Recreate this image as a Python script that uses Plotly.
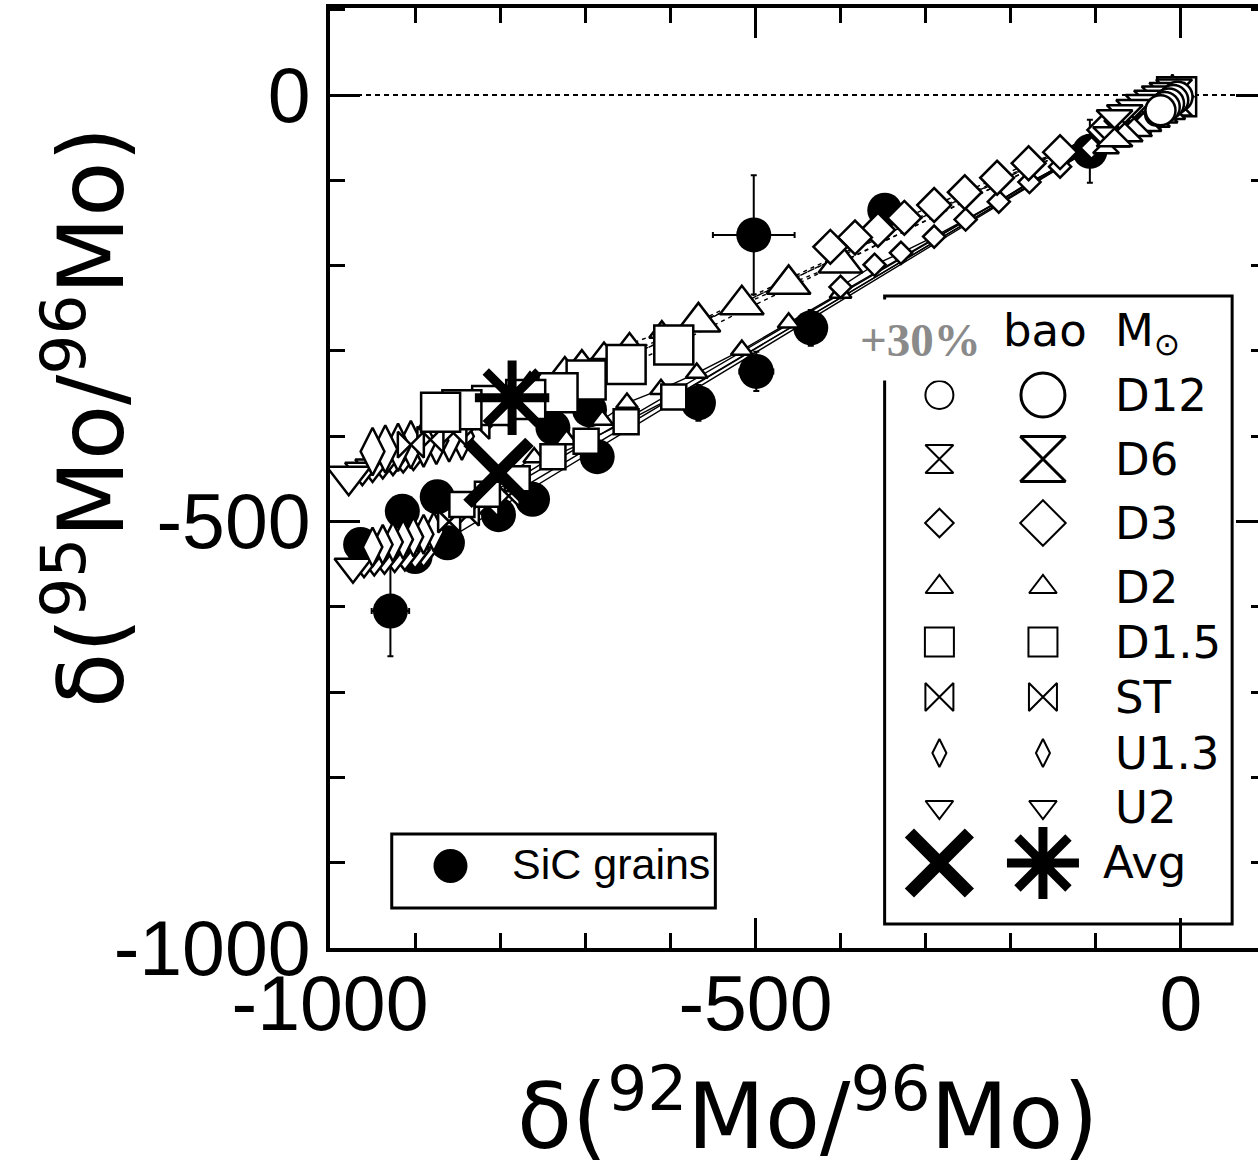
import plotly.graph_objects as go

# ------------------------------------------------------------------ data
# SiC grains (x = d(92Mo/96Mo), y = d(95Mo/96Mo)) with 1-sigma errors
sic_x = [-107, -502, -435, -499, -567, -686, -695, -738, -762, -802, -874, -915, -862, -900, -964, -929, -348]
sic_y = [-66, -164, -273, -324, -361, -424, -369, -390, -474, -492, -471, -488, -525, -541, -527, -605, -135]
sic_ex = [10, 48, 16, 20, 14, 12, 12, 12, 12, 12, 12, 12, 12, 12, 12, 22, 12]
sic_ey = [37, 70, 21, 23, 21, 12, 12, 12, 12, 12, 12, 12, 12, 12, 12, 53, 12]

# averages
avg_p30_x = [-802]
avg_p30_y = [-443]
avg_bao_x = [-786]
avg_bao_y = [-355]

models = ["D12", "D6", "D3", "D2", "D1.5", "ST", "U1.3", "U2"]

# "bao" cross sections (upper band, dashed)
bao_D12_x = [-4, -9, -14, -19, -24]
bao_D12_y = [-2, -6, -10, -14, -18]
bao_D6_x = [-8, -16, -25, -34, -44, -55, -66, -78]
bao_D6_y = [-3, -7, -11, -16, -21, -27, -33, -39]
bao_D3_x = [-5, -40, -90, -142, -179, -216, -254, -290, -325, -356, -383, -412]
bao_D3_y = [-2, -18, -41, -67, -80, -97, -114, -129, -144, -158, -167, -178]
bao_D2_x = [-5, -400, -461, -516, -567, -610, -648, -678, -704, -724, -765, -800]
bao_D2_y = [-2, -197, -222, -246, -266, -278, -292, -303, -312, -320, -338, -352]
bao_D15_x = [-5, -596, -652, -699, -732, -770, -810, -845, -870]
bao_D15_y = [-2, -293, -316, -334, -349, -357, -364, -369, -372]
bao_ST_x = [-6, -800, -828, -855, -882, -905]
bao_ST_y = [-3, -378, -388, -396, -404, -410]
bao_U13_x = [-10, -845, -860, -875, -890, -905, -920, -935, -950]
bao_U13_y = [-4, -400, -402, -405, -408, -410, -413, -415, -418]
bao_U2_x = [-14, -902, -914, -926, -938, -950, -962, -978]
bao_U2_y = [-6, -422, -425, -428, -432, -436, -440, -447]

# "+30%" cross sections (lower band, solid)
p30_D12_x = [-5, -11, -17, -23, -29]
p30_D12_y = [-3, -8, -13, -18, -23]
p30_D6_x = [-8, -17, -27, -38, -50, -62, -75, -88]
p30_D6_y = [-5, -10, -16, -23, -30, -37, -45, -53]
p30_D3_x = [-6, -60, -105, -142, -178, -214, -253, -290, -329, -360, -400]
p30_D3_y = [-4, -35, -62, -84, -102, -125, -146, -166, -185, -199, -225]
p30_D2_x = [-8, -400, -461, -516, -569, -611, -651, -680, -722, -760, -800]
p30_D2_y = [-5, -232, -267, -299, -326, -345, -361, -381, -404, -425, -450]
p30_D15_x = [-8, -596, -652, -699, -738, -780, -815, -845]
p30_D15_y = [-5, -354, -383, -406, -424, -450, -468, -480]
p30_ST_x = [-7, -790, -815, -838, -860]
p30_ST_y = [-4, -470, -482, -492, -500]
p30_U13_x = [-12, -878, -890, -902, -914, -926, -938, -950]
p30_U13_y = [-7, -512, -515, -518, -521, -524, -527, -530]
p30_U2_x = [-16, -890, -900, -912, -924, -936, -948, -960, -973]
p30_U2_y = [-9, -538, -540, -542, -544, -546, -548, -550, -553]

x_ticks = [-1000, -500, 0]
y_ticks = [-1000, -500, 0]
x_tick_text = ["-1000", "-500", "0"]
y_tick_text = ["-1000", "-500", "0"]

# ------------------------------------------------------------------ styles
FONT = "DejaVu Sans"
TICKFONT = "Liberation Sans"
bao = {"D12": (bao_D12_x, bao_D12_y), "D6": (bao_D6_x, bao_D6_y), "D3": (bao_D3_x, bao_D3_y),
       "D2": (bao_D2_x, bao_D2_y), "D1.5": (bao_D15_x, bao_D15_y), "ST": (bao_ST_x, bao_ST_y),
       "U1.3": (bao_U13_x, bao_U13_y), "U2": (bao_U2_x, bao_U2_y)}
p30 = {"D12": (p30_D12_x, p30_D12_y), "D6": (p30_D6_x, p30_D6_y), "D3": (p30_D3_x, p30_D3_y),
       "D2": (p30_D2_x, p30_D2_y), "D1.5": (p30_D15_x, p30_D15_y), "ST": (p30_ST_x, p30_ST_y),
       "U1.3": (p30_U13_x, p30_U13_y), "U2": (p30_U2_x, p30_U2_y)}
sym = {"D12": "circle", "D6": "hourglass", "D3": "diamond", "D2": "triangle-up",
       "D1.5": "square", "ST": "bowtie", "U1.3": "diamond-tall", "U2": "triangle-down"}
size_bao = {"D12": 30, "D6": 36, "D3": 26, "D2": 22, "D1.5": 39, "ST": 26, "U1.3": 34, "U2": 30}
size_p30 = {"D12": 22, "D6": 26, "D3": 17, "D2": 19, "D1.5": 25, "ST": 22, "U1.3": 28, "U2": 26}
leg_small = {"D12": 28, "D6": 28, "D3": 22, "D2": 24, "D1.5": 29, "ST": 28, "U1.3": 20, "U2": 24}
leg_big = {"D12": 44, "D6": 45, "D3": 35, "D2": 24, "D1.5": 29, "ST": 28, "U1.3": 20, "U2": 24}


def is_big(name, group, xv, xs):
    """Some markers are drawn larger in the original figure."""
    if group == "bao" and name == "D2":
        return -570 <= xv <= -395
    if name == "U2":
        return xv == min(xs)
    return False


fig = go.Figure()

# model lines first (under everything)
for m in models:
    for grp, dash in ((bao, "4px,4px"), (p30, "solid")):
        xs, ys = grp[m]
        fig.add_trace(go.Scatter(x=xs, y=ys, mode="lines", hoverinfo="skip",
                                 line=dict(color="black", width=1.4, dash=dash)))

# SiC grains
fig.add_trace(go.Scatter(
    x=sic_x, y=sic_y, mode="markers",
    marker=dict(symbol="circle", size=35, color="black"),
    error_x=dict(type="data", array=sic_ex, color="black", thickness=2, width=3),
    error_y=dict(type="data", array=sic_ey, color="black", thickness=2, width=3)))

# model markers
draw_order = ["U2", "U1.3", "ST", "D2", "D1.5", "D3", "D6", "D12"]
for m in draw_order:
    for grp, sizes, gname in ((p30, size_p30, "p30"), (bao, size_bao, "bao")):
        xs, ys = grp[m]
        big_x = [a for a in xs if is_big(m, gname, a, xs)]
        big_y = [b for a, b in zip(xs, ys) if is_big(m, gname, a, xs)]
        sm_x = [a for a in xs if not is_big(m, gname, a, xs)]
        sm_y = [b for a, b in zip(xs, ys) if not is_big(m, gname, a, xs)]
        big_size = 38 if gname == "bao" else 32
        for px_, py_, s in ((sm_x, sm_y, sizes[m]), (big_x, big_y, big_size)):
            if not px_:
                continue
            fig.add_trace(go.Scatter(
                x=px_, y=py_, mode="markers", hoverinfo="skip",
                marker=dict(symbol=sym[m], size=s, color="white", opacity=1,
                            line=dict(color="black", width=2.5))))

# averages
fig.add_trace(go.Scatter(x=avg_p30_x, y=avg_p30_y, mode="markers",
                         marker=dict(symbol="x-thin", size=62, color="black",
                                     line=dict(color="black", width=12))))
fig.add_trace(go.Scatter(x=avg_bao_x, y=avg_bao_y, mode="markers",
                         marker=dict(symbol="asterisk", size=62, color="black",
                                     line=dict(color="black", width=9))))

# ------------------------------------------------------------------ legends (pixel overlay axes)
row_y = [395, 459, 523, 587, 642, 697, 753, 807]
col1_x, col2_x, lab_x = 942, 1046, 1116
for m, ry in zip(models, row_y):
    fig.add_trace(go.Scatter(x=[col1_x], y=[ry], xaxis="x2", yaxis="y2", mode="markers",
                             marker=dict(symbol=sym[m], size=leg_small[m], color="white",
                                         line=dict(color="black", width=2))))
    fig.add_trace(go.Scatter(x=[col2_x], y=[ry], xaxis="x2", yaxis="y2", mode="markers",
                             marker=dict(symbol=sym[m], size=leg_big[m], color="white",
                                         line=dict(color="black", width=3 if leg_big[m] > 40 else 2))))
    fig.add_annotation(x=lab_x, y=ry, xref="x2", yref="y2", text=m, showarrow=False,
                       xanchor="left", yanchor="middle",
                       font=dict(family=FONT, size=45, color="black"))

fig.add_trace(go.Scatter(x=[col1_x], y=[863], xaxis="x2", yaxis="y2", mode="markers",
                         marker=dict(symbol="x-thin", size=60, color="black",
                                     line=dict(color="black", width=13))))
fig.add_trace(go.Scatter(x=[col2_x], y=[863], xaxis="x2", yaxis="y2", mode="markers",
                         marker=dict(symbol="asterisk", size=60, color="black",
                                     line=dict(color="black", width=9))))
fig.add_annotation(x=1104, y=862, xref="x2", yref="y2", text="Avg", showarrow=False,
                   xanchor="left", yanchor="middle", font=dict(family=FONT, size=45, color="black"))
fig.add_annotation(x=1004, y=330, xref="x2", yref="y2", text="bao", showarrow=False,
                   xanchor="left", yanchor="middle", font=dict(family=FONT, size=45, color="black"))
fig.add_annotation(x=1116, y=333, xref="x2", yref="y2", text="M<sub>⊙</sub>", showarrow=False,
                   xanchor="left", yanchor="middle", font=dict(family=FONT, size=45, color="black"))
fig.add_annotation(x=923, y=340, xref="x2", yref="y2", text="<b>+30%</b>", showarrow=False,
                   xanchor="center", yanchor="middle", bgcolor="white", borderpad=14,
                   font=dict(family="Liberation Serif", size=47, color="#8a8a8a"))

# SiC legend
fig.add_trace(go.Scatter(x=[451], y=[866], xaxis="x2", yaxis="y2", mode="markers",
                         marker=dict(symbol="circle", size=34, color="black")))
fig.add_annotation(x=511, y=864, xref="x2", yref="y2", text="SiC grains", showarrow=False,
                   xanchor="left", yanchor="middle",
                   font=dict(family=TICKFONT, size=43, color="black"))

shapes = [
    dict(type="rect", xref="x2", yref="y2", x0=392, x1=717, y0=834, y1=908,
         line=dict(color="black", width=3), fillcolor="rgba(0,0,0,0)", layer="above"),
    dict(type="rect", xref="x2", yref="y2", x0=887, x1=1236, y0=296, y1=924,
         line=dict(color="black", width=3), fillcolor="rgba(0,0,0,0)", layer="above"),
    dict(type="line", xref="paper", yref="y", x0=0, x1=1, y0=0, y1=0,
         line=dict(color="black", width=2, dash="5px,4px"), layer="below"),
]

# axis titles (paper coordinates: plot area is 940 x 940 px)
fig.add_annotation(x=(810 - 330) / 940, y=(948 - 1110) / 940, xref="paper", yref="paper",
                   text="δ(<sup>92</sup>Mo/<sup>96</sup>Mo)", showarrow=False,
                   xanchor="center", yanchor="middle", font=dict(family=FONT, size=90, color="black"))
fig.add_annotation(x=(84 - 330) / 940, y=(948 - 418) / 940, xref="paper", yref="paper", textangle=-90,
                   text="δ(<sup>95</sup>Mo/<sup>96</sup>Mo)", showarrow=False,
                   xanchor="center", yanchor="middle", font=dict(family=FONT, size=90, color="black"))

axis_common = dict(showline=True, linewidth=4, linecolor="black", mirror="ticks",
                   ticks="inside", ticklen=30, tickwidth=3, tickcolor="black",
                   showgrid=False, zeroline=False, tickmode="array",
                   tickfont=dict(family=TICKFONT, size=77, color="black"),
                   minor=dict(ticks="inside", ticklen=15, tickwidth=3, tickcolor="black",
                              tickmode="linear", tick0=0, dtick=100, showgrid=False))

fig.update_layout(
    width=1272, height=1169,
    margin=dict(l=330, r=2, t=8, b=221),
    paper_bgcolor="white", plot_bgcolor="white",
    showlegend=False,
    xaxis=dict(range=[-1000, 100], tickvals=x_ticks, ticktext=x_tick_text,
               ticklabelstandoff=-14, **axis_common),
    yaxis=dict(range=[-1000, 102], tickvals=y_ticks, ticktext=y_tick_text,
               ticklabelstandoff=0, **axis_common),
    xaxis2=dict(range=[330, 1270], overlaying="x", anchor="y2", visible=False),
    yaxis2=dict(range=[948, 8], overlaying="y", anchor="x2", visible=False),
    shapes=shapes,
)

fig.write_html("out.html",
               post_script="document.documentElement.style.overflow='hidden';"
                           "document.body.style.overflow='hidden';")
